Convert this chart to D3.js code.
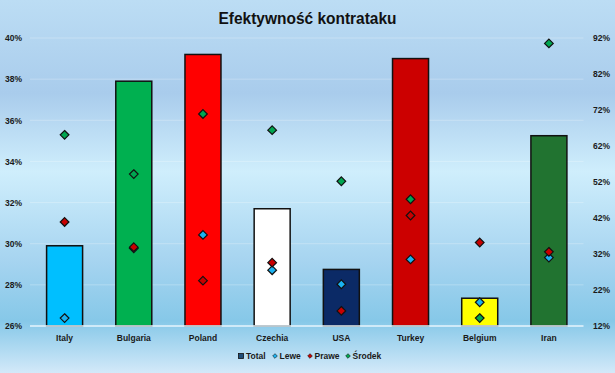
<!DOCTYPE html>
<html>
<head>
<meta charset="utf-8">
<script src="https://cdn.jsdelivr.net/npm/d3@7"></script>
<style>
  body { margin: 0; }
  svg { display: block; }
  text { font-family: "Liberation Sans Narrow", "Liberation Sans", Arial, sans-serif; font-weight: bold; }
</style>
</head>
<body>
<main></main>
<script>
// Dane
const kraje = ['Italy', 'Bulgaria', 'Poland', 'Czechia', 'USA', 'Turkey', 'Belgium', 'Iran'];
const total = [29.9, 37.9, 39.2, 31.7, 28.75, 39.0, 27.35, 35.25];
const lewe = [14.2, 33.6, 37.3, 27.5, 23.6, 30.5, 18.6, 31.0];
const prawe = [40.9, 33.9, 24.6, 29.6, 16.2, 42.7, 35.2, 32.6];
const srodek = [65.1, 54.2, 70.9, 66.4, 52.2, 47.2, 14.2, 90.5];
const kolorySlupkow = ['#00BFFF', '#00B050', '#FF0000', '#FFFFFF', '#0B2A66', '#CC0000', '#FFFF00', '#217330'];
const lewaOs = [26, 28, 30, 32, 34, 36, 38, 40];
const prawaOs = [12, 22, 32, 42, 52, 62, 72, 82, 92];

const w = 615;
const h = 373;
const m = { top: 38, left: 30, right: 31.5, bottom: 47 };

var svg = d3.select('main')
    .append('svg')
    .attr('width', w)
    .attr('height', h);

// Tło z gradientem
const grad = svg.append('defs').append('linearGradient')
    .attr('id', 'tlo')
    .attr('x1', 0).attr('y1', 0).attr('x2', 0).attr('y2', 1);
[[0, '#BCDDF4'], [0.25, '#A9CCEC'], [0.46, '#CFEEFC'], [0.7, '#A6D4F0'], [0.86, '#86C8E8'], [1, '#D3E9F9']]
    .forEach(s => grad.append('stop').attr('offset', s[0]).attr('stop-color', s[1]));

svg.append('rect')
    .attr('width', w)
    .attr('height', h)
    .attr('fill', 'url(#tlo)');

// Skale
const x = d3.scaleBand()
    .domain(kraje)
    .range([m.left, w - m.right]);

const yL = d3.scaleLinear()
    .domain([26, 40])
    .range([h - m.bottom, m.top]);

const yR = d3.scaleLinear()
    .domain([12, 92])
    .range([h - m.bottom, m.top]);

// Linie siatki
svg.append('g')
    .selectAll('line')
    .data(lewaOs.slice(1))
    .enter()
    .append('line')
    .attr('x1', m.left)
    .attr('x2', w - m.right)
    .attr('y1', d => yL(d))
    .attr('y2', d => yL(d))
    .attr('stroke', '#FFFFFF')
    .attr('stroke-opacity', 0.25)
    .attr('stroke-width', 1);

// Tytuł
svg.append('text')
    .attr('x', 307.5)
    .attr('y', 24)
    .attr('text-anchor', 'middle')
    .attr('textLength', 178)
    .attr('lengthAdjust', 'spacingAndGlyphs')
    .attr('font-size', '16px')
    .attr('fill', '#111')
    .text('Efektywność kontrataku');

// Słupki
const bw = 36;
svg.append('g')
    .selectAll('rect')
    .data(kraje)
    .enter()
    .append('rect')
    .attr('x', d => x(d) + x.bandwidth() / 2 - bw / 2)
    .attr('y', (d, i) => yL(total[i]))
    .attr('width', bw)
    .attr('height', (d, i) => yL(26) - yL(total[i]))
    .attr('fill', (d, i) => kolorySlupkow[i])
    .attr('stroke', '#111')
    .attr('stroke-width', 1.5);

// Oś bazowa
svg.append('line')
    .attr('x1', m.left)
    .attr('x2', w - m.right)
    .attr('y1', yL(26))
    .attr('y2', yL(26))
    .attr('stroke', '#E6F4FC')
    .attr('stroke-width', 1.5);

// Osie
const osL = svg.append('g')
    .attr('transform', `translate(${m.left - 6},0)`)
    .call(d3.axisLeft(yL).tickValues(lewaOs).tickFormat(d => d + '%').tickSize(0));

const osR = svg.append('g')
    .attr('transform', `translate(${w - 22},0)`)
    .call(d3.axisRight(yR).tickValues(prawaOs).tickFormat(d => d + '%').tickSize(0));

const osX = svg.append('g')
    .attr('transform', `translate(0,${yL(26) + 6})`)
    .call(d3.axisBottom(x).tickSize(0));

[osL, osR, osX].forEach(o => {
    o.select('.domain').remove();
    o.selectAll('text')
        .attr('font-size', '8.5px')
        .attr('fill', '#1a1a1a')
        .style('font-family', '"Liberation Sans Narrow", Arial, sans-serif')
        .style('font-weight', 'bold');
});
osL.selectAll('text').attr('x', -2).attr('text-anchor', 'end');
osR.selectAll('text').attr('x', 0).attr('text-anchor', 'start');

// Znaczniki (romby)
const romb = d3.symbol().type(d3.symbolDiamond2).size(48);
const serie = [
    { nazwa: 'Lewe', wartosci: lewe, kolor: '#1AB2F0' },
    { nazwa: 'Prawe', wartosci: prawe, kolor: '#C80000' },
    { nazwa: 'Środek', wartosci: srodek, kolor: '#00A651' }
];

serie.forEach(s => {
    svg.append('g')
        .selectAll('path')
        .data(kraje)
        .enter()
        .append('path')
        .attr('d', romb)
        .attr('transform', (d, i) => `translate(${x(d) + x.bandwidth() / 2},${yR(s.wartosci[i])})`)
        .attr('fill', s.kolor)
        .attr('stroke', '#111')
        .attr('stroke-width', 1.2);
});

// Legenda
const legenda = svg.append('g')
    .attr('transform', `translate(241,356)`);

const pozycje = [
    { nazwa: 'Total', x: 0, typ: 'kw', kolor: '#1F4E79' },
    { nazwa: 'Lewe', x: 34, typ: 'romb', kolor: '#1AB2F0' },
    { nazwa: 'Prawe', x: 69, typ: 'romb', kolor: '#C80000' },
    { nazwa: 'Środek', x: 107, typ: 'romb', kolor: '#00A651' }
];

pozycje.forEach(p => {
    if (p.typ === 'kw') {
        legenda.append('rect')
            .attr('x', p.x - 2.5)
            .attr('y', -2.5)
            .attr('width', 5)
            .attr('height', 5)
            .attr('fill', p.kolor)
            .attr('stroke', '#111')
            .attr('stroke-width', 0.8);
    } else {
        legenda.append('path')
            .attr('d', d3.symbol().type(d3.symbolDiamond2).size(14)())
            .attr('transform', `translate(${p.x},0)`)
            .attr('fill', p.kolor)
            .attr('stroke', '#111')
            .attr('stroke-width', 0.6);
    }
    legenda.append('text')
        .attr('x', p.x + (p.typ === 'kw' ? 5 : 4.5))
        .attr('y', 3)
        .attr('font-size', '8.5px')
        .attr('fill', '#1a1a1a')
        .text(p.nazwa);
});
</script>
</body>
</html>
